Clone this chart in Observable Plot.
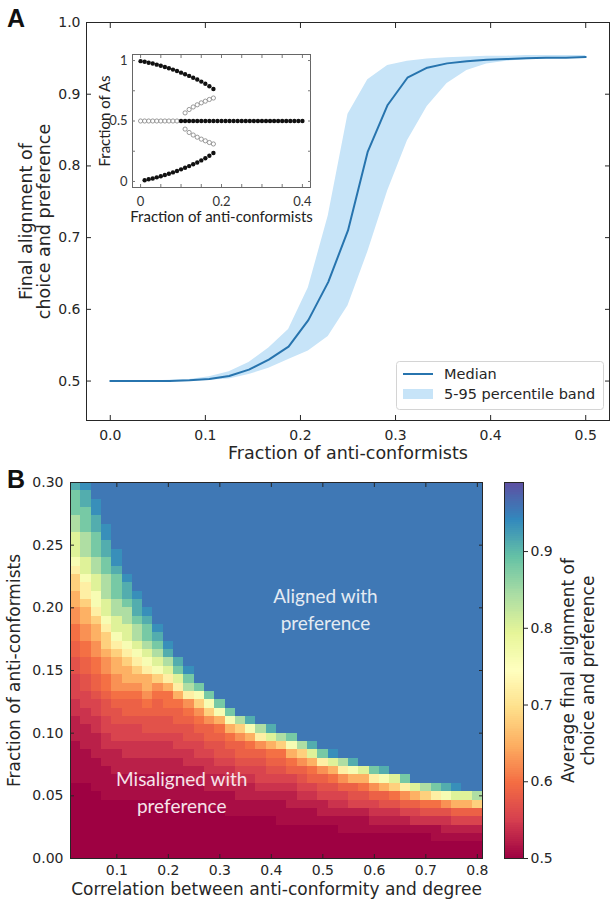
<!DOCTYPE html>
<html><head><meta charset="utf-8">
<script src="https://cdn.jsdelivr.net/npm/d3@7"></script>
<script src="https://cdn.jsdelivr.net/npm/@observablehq/plot@0.6"></script>
<style>
html,body{margin:0;padding:0;background:#fff;}
#fig{position:relative;width:611px;height:902px;overflow:hidden;font-family:"DejaVu Sans",sans-serif;}
.layer{position:absolute;left:0;top:0;}
.panel-label{position:absolute;font-family:"Liberation Sans",Arial,sans-serif;font-weight:bold;font-size:25px;line-height:1;color:#111;}
</style></head><body><div id="fig"></div>
<script>
// ================= DATA =================
// Panel A: final alignment vs fraction of anti-conformists
const fracA   = [0, 0.0208, 0.0417, 0.0625, 0.0833, 0.1042, 0.125, 0.1458, 0.1667, 0.1875, 0.2083, 0.2292, 0.25, 0.2708, 0.2917, 0.3125, 0.3333, 0.3542, 0.375, 0.3958, 0.4167, 0.4375, 0.4583, 0.4792, 0.5];
const medianA = [0.5, 0.5, 0.5, 0.5, 0.501, 0.503, 0.507, 0.516, 0.53, 0.548, 0.585, 0.638, 0.71, 0.82, 0.885, 0.923, 0.937, 0.943, 0.946, 0.948, 0.949, 0.950, 0.951, 0.951, 0.952];
const p5A     = [0.5, 0.5, 0.5, 0.5, 0.5, 0.501, 0.503, 0.509, 0.518, 0.53, 0.542, 0.562, 0.605, 0.68, 0.765, 0.835, 0.883, 0.915, 0.933, 0.942, 0.946, 0.948, 0.949, 0.95, 0.95];
const p95A    = [0.5, 0.5, 0.5, 0.501, 0.502, 0.506, 0.513, 0.526, 0.546, 0.572, 0.63, 0.73, 0.872, 0.92, 0.94, 0.946, 0.949, 0.951, 0.952, 0.953, 0.953, 0.954, 0.954, 0.954, 0.954];
const xTicksA = [0, 0.1, 0.2, 0.3, 0.4, 0.5];
const yTicksA = [0.5, 0.6, 0.7, 0.8, 0.9, 1.0];

// Inset: fraction of As (bifurcation diagram)
const insetUpperX        = [0, 0.01, 0.02, 0.03, 0.04, 0.05, 0.06, 0.07, 0.08, 0.09, 0.10, 0.11, 0.12, 0.13, 0.14, 0.15, 0.16, 0.17, 0.18];
const insetUpperStable   = [0.995, 0.99, 0.982, 0.975, 0.966, 0.957, 0.947, 0.936, 0.925, 0.913, 0.9, 0.887, 0.873, 0.858, 0.843, 0.826, 0.808, 0.788, 0.765];
const insetLowerX        = [0.01, 0.02, 0.03, 0.04, 0.05, 0.06, 0.07, 0.08, 0.09, 0.10, 0.11, 0.12, 0.13, 0.14, 0.15, 0.16, 0.17, 0.18];
const insetLowerStable   = [0.01, 0.018, 0.025, 0.034, 0.043, 0.053, 0.064, 0.075, 0.087, 0.1, 0.113, 0.127, 0.142, 0.157, 0.174, 0.192, 0.212, 0.235];
const insetOpenCenterX   = [0, 0.01, 0.02, 0.03, 0.04, 0.05, 0.06, 0.07, 0.08, 0.09];
const insetStableCenterX = [0.10, 0.11, 0.12, 0.13, 0.14, 0.15, 0.16, 0.17, 0.18, 0.19, 0.20, 0.21, 0.22, 0.23, 0.24, 0.25, 0.26, 0.27, 0.28, 0.29, 0.30, 0.31, 0.32, 0.33, 0.34, 0.35, 0.36, 0.37, 0.38, 0.39, 0.40];
const insetCenterValue   = 0.5;
const insetOpenBranchX   = [0.11, 0.12, 0.13, 0.14, 0.15, 0.16, 0.17, 0.18];
const insetUpperUnstable = [0.567, 0.595, 0.616, 0.634, 0.65, 0.664, 0.678, 0.69];
const insetLowerUnstable = [0.433, 0.405, 0.384, 0.366, 0.35, 0.336, 0.322, 0.31];
const insetXTicks = [0, 0.05, 0.1, 0.15, 0.2, 0.25, 0.3, 0.35, 0.4];
const insetXLabels = [0, 0.2, 0.4];
const insetYTicks = [0, 0.25, 0.5, 0.75, 1];
const insetYLabels = [0, 0.5, 1];

// Panel B: heatmap (columns = correlation, chars = rows of fraction, bottom -> top)
const corrX = [0.02,0.04,0.06,0.08,0.10,0.12,0.14,0.16,0.18,0.20,0.22,0.24,0.26,0.28,0.30,0.32,0.34,0.36,0.38,0.40,0.42,0.44,0.46,0.48,0.50,0.52,0.54,0.56,0.58,0.60,0.62,0.64,0.66,0.68,0.70,0.72,0.74,0.76,0.78,0.80];
const fracDomainB = [0, 0.3];
const fracRowCount = 45;
const heatLevels = {"0":0.5,"1":0.51,"2":0.525,"3":0.54,"4":0.555,"5":0.57,"6":0.585,"7":0.6,"8":0.625,"9":0.65,"a":0.68,"b":0.72,"c":0.76,"d":0.80,"e":0.84,"f":0.88,"g":0.91,"h":0.935,"i":0.955};
const alignedLevel = "i"; // rows above each column's listed cells are all at the aligned plateau
const heatCols = [
  "00000000011111222334445566778899aabcdddeefffg",
  "000000000111122233445566778899abbcddeeefffggh",
  "0000000011112223344566778899abccddeefffgghh",
  "0000000111122334455677889aabcddeeeffgghh",
  "000000011122234455678899abcddeefffghh",
  "00000001112233445667899abcddeefggh",
  "0000000111223344566789abcdeefggh",
  "0000000111223345567899bcdeffgh",
  "000000011122334556678acdefgh",
  "000000011122334556779bdegh",
  "00000001112234456679bdfg",
  "0000001112233455678befh",
  "000000111223445678acf",
  "00000011223345668acf",
  "00000011223455679cf",
  "0000011123345679cf",
  "000001122345668ae",
  "000001122345679cg",
  "00000112344568be",
  "00000112345679dg",
  "0000111234567ae",
  "0000112234679cf",
  "000011234568ae",
  "000011234679dg",
  "00001224568bf",
  "00001234579dh",
  "0001123468be",
  "0001124569cg",
  "0001124579d",
  "000123468bf",
  "000123569cg",
  "00012357ad",
  "00012468bf",
  "00013469d",
  "0001357ae",
  "0011357bf",
  "0012358cg",
  "0012469dh",
  "0012469d",
  "001246ae"
];
const xTicksB = [0.1, 0.2, 0.3, 0.4, 0.5, 0.6, 0.7, 0.8];
const yTicksB = [0, 0.05, 0.1, 0.15, 0.2, 0.25, 0.3];
const colorDomainB = [0.5, 0.99];
const colorTicksB = [0.5, 0.6, 0.7, 0.8, 0.9];
const annotB = [
  {label: "Aligned with\npreference", corr: 0.505, frac: 0.2},
  {label: "Misaligned with\npreference", corr: 0.226, frac: 0.054}
];

// ================= BUILD =================
const fig = document.getElementById("fig");
function place(node, left, top) {
  const w = document.createElement("div");
  w.className = "layer"; w.style.left = left + "px"; w.style.top = top + "px";
  w.appendChild(node); fig.appendChild(w); return w;
}
const ink = "#262626";
function tickMarks(xTicks, yTicks, size) {
  return [
    Plot.axisX({anchor: "bottom", ticks: xTicks, tickSize: -size, fill: null, label: null, stroke: ink}),
    Plot.axisX({anchor: "top", ticks: xTicks, tickSize: -size, fill: null, label: null, stroke: ink}),
    Plot.axisY({anchor: "left", ticks: yTicks, tickSize: -size, fill: null, label: null, stroke: ink}),
    Plot.axisY({anchor: "right", ticks: yTicks, tickSize: -size, fill: null, label: null, stroke: ink})
  ];
}

// ---- Panel A ----
const dataA = fracA.map((f, i) => ({frac: f, median: medianA[i], p5: p5A[i], p95: p95A[i]}));
const bandColor = "#c7e4f8";
const lineColor = "#2774ae";
const plotA = Plot.plot({
  width: 611, height: 470,
  marginLeft: 86, marginRight: 2, marginTop: 22, marginBottom: 50,
  style: {fontFamily: "DejaVu Sans", color: ink, background: "transparent", overflow: "visible"},
  x: {domain: [-0.025, 0.525], label: null},
  y: {domain: [0.445, 1.0], label: null},
  marks: [
    Plot.areaY(dataA, {x: "frac", y1: "p5", y2: "p95", fill: bandColor}),
    Plot.lineY(dataA, {x: "frac", y: "median", stroke: lineColor, strokeWidth: 2}),
    Plot.frame({stroke: ink}),
    ...tickMarks(xTicksA, yTicksA, 5),
    Plot.axisX({anchor: "bottom", ticks: xTicksA, tickSize: 0, tickPadding: 10, tickFormat: ".1f", fontSize: 14, label: null}),
    Plot.axisY({anchor: "left", ticks: yTicksA, tickSize: 0, tickPadding: 6, tickFormat: ".1f", fontSize: 14, label: null}),
    Plot.text(["Fraction of anti-conformists"], {frameAnchor: "bottom", dy: 33, fontSize: 17.5, lineAnchor: "middle", fill: ink}),
    Plot.text(["Final alignment of\nchoice and preference"], {frameAnchor: "left", dx: -51, rotate: -90, textAnchor: "middle", fontSize: 17.5, lineHeight: 1.0, lineAnchor: "middle", fill: ink})
  ]
});
place(plotA, 0, 0);

// ---- Inset ----
const zip = (xs, ys) => xs.map((x, i) => ({x, y: ys[i]}));
const blackPts = [
  ...zip(insetUpperX, insetUpperStable),
  ...zip(insetLowerX, insetLowerStable),
  ...insetStableCenterX.map(x => ({x, y: insetCenterValue}))
];
const openPts = [
  ...insetOpenCenterX.map(x => ({x, y: insetCenterValue})),
  ...zip(insetOpenBranchX, insetUpperUnstable),
  ...zip(insetOpenBranchX, insetLowerUnstable)
];
const plotInset = Plot.plot({
  width: 330, height: 232,
  marginLeft: 132, marginRight: 20, marginTop: 54, marginBottom: 45,
  style: {fontFamily: "Lato", color: "#333", background: "transparent", overflow: "visible"},
  x: {domain: [-0.02, 0.42], label: null},
  y: {domain: [-0.05, 1.05], label: null},
  marks: [
    Plot.frame({stroke: "#666"}),
    Plot.axisX({anchor: "bottom", ticks: insetXTicks, tickSize: -3, fill: null, label: null, stroke: "#777"}),
    Plot.axisX({anchor: "top", ticks: insetXTicks, tickSize: -3, fill: null, label: null, stroke: "#777"}),
    Plot.axisY({anchor: "left", ticks: insetYTicks, tickSize: -3, fill: null, label: null, stroke: "#777"}),
    Plot.axisY({anchor: "right", ticks: insetYTicks, tickSize: -3, fill: null, label: null, stroke: "#777"}),
    Plot.dot(openPts, {x: "x", y: "y", r: 2.1, stroke: "#808080", strokeWidth: 0.8, fill: "white"}),
    Plot.dot(blackPts, {x: "x", y: "y", r: 2.2, fill: "#111"}),
    Plot.axisX({anchor: "bottom", ticks: insetXLabels, tickSize: 0, tickPadding: 9, tickFormat: d => String(d), fontSize: 13, label: null}),
    Plot.axisY({anchor: "left", ticks: insetYLabels, tickSize: 0, tickPadding: 5, tickFormat: d => String(d), fontSize: 13, label: null}),
    Plot.text(["Fraction of anti-conformists"], {frameAnchor: "bottom", dy: 30, fontSize: 15, lineAnchor: "middle", fill: "#222"}),
    Plot.text(["Fraction of As"], {frameAnchor: "left", dx: -27, rotate: -90, textAnchor: "middle", fontSize: 15, lineAnchor: "middle", fill: "#222"})
  ]
});
place(plotInset, 0, 0);

// ---- Legend (panel A) ----
const NS = "http://www.w3.org/2000/svg";
const leg = document.createElementNS(NS, "svg");
leg.setAttribute("width", 210); leg.setAttribute("height", 52);
leg.innerHTML = `
  <rect x="0.5" y="0.5" width="207" height="48" rx="3" fill="rgba(255,255,255,0.85)" stroke="#d4d4d4"/>
  <line x1="7" x2="37" y1="13" y2="13" stroke="${lineColor}" stroke-width="2"/>
  <rect x="7" y="28" width="30" height="10" fill="${bandColor}"/>
  <text x="48" y="13" dy="0.35em" font-family="DejaVu Sans" font-size="14.5" fill="${ink}">Median</text>
  <text x="48" y="33" dy="0.35em" font-family="DejaVu Sans" font-size="14.5" fill="${ink}">5-95 percentile band</text>`;
place(leg, 396, 361);

// ---- Panel B heatmap ----
const colStep = corrX[1] - corrX[0];
const rowStep = (fracDomainB[1] - fracDomainB[0]) / fracRowCount;
const cellsB = [];
heatCols.forEach((col, j) => {
  const full = col.padEnd(fracRowCount, alignedLevel);
  for (let i = 0; i < fracRowCount; i++) {
    cellsB.push({
      x1: corrX[j] - colStep / 2, x2: corrX[j] + colStep / 2,
      y1: fracDomainB[0] + i * rowStep, y2: fracDomainB[0] + (i + 1) * rowStep,
      v: heatLevels[full[i]]
    });
  }
});
const spectralStops = ["#9e0142","#d53e4f","#f46d43","#fdae61","#fee08b","#ffffbf","#e6f598","#abdda4","#66c2a5","#3288bd","#5e4fa2"];
const colorB = {type: "linear", domain: colorDomainB, interpolate: d3.piecewise(d3.interpolateRgb, spectralStops), clamp: true};
const plotB = Plot.plot({
  width: 490, height: 432,
  marginLeft: 70, marginRight: 8, marginTop: 12, marginBottom: 44,
  style: {fontFamily: "DejaVu Sans", color: ink, background: "transparent", overflow: "visible"},
  x: {domain: [corrX[0] - colStep / 2, corrX[corrX.length - 1] + colStep / 2], label: null},
  y: {domain: fracDomainB, label: null},
  color: colorB,
  marks: [
    Plot.rect(cellsB, {x1: "x1", x2: "x2", y1: "y1", y2: "y2", fill: "v", shapeRendering: "crispEdges"}),
    Plot.frame({stroke: ink}),
    ...tickMarks(xTicksB, yTicksB, 4),
    Plot.axisX({anchor: "bottom", ticks: xTicksB, tickSize: 0, tickPadding: 7, tickFormat: ".1f", fontSize: 14, label: null}),
    Plot.axisY({anchor: "left", ticks: yTicksB, tickSize: 0, tickPadding: 7, tickFormat: ".2f", fontSize: 14, label: null}),
    Plot.text([annotB[0]], {x: "corr", y: "frac", text: "label", fontFamily: "Lato", fontSize: 19, lineHeight: 1.4, fill: "#e4ebf3"}),
    Plot.text([annotB[1]], {x: "corr", y: "frac", text: "label", fontFamily: "Lato", fontSize: 19, lineHeight: 1.4, fill: "#f7e3ea"}),
    Plot.text(["Correlation between anti-conformity and degree"], {frameAnchor: "bottom", dy: 31, fontSize: 17, lineAnchor: "middle", fill: ink}),
    Plot.text(["Fraction of anti-conformists"], {frameAnchor: "left", dx: -56, rotate: -90, textAnchor: "middle", fontSize: 17, lineAnchor: "middle", fill: ink})
  ]
});
place(plotB, 0, 470);

// ---- Colorbar ----
const rampStep = 0.0025;
const ramp = d3.range(colorDomainB[0], colorDomainB[1], rampStep);
const plotCb = Plot.plot({
  width: 121, height: 432,
  marginLeft: 14, marginRight: 88, marginTop: 12, marginBottom: 44,
  style: {fontFamily: "DejaVu Sans", color: ink, background: "transparent", overflow: "visible"},
  x: {domain: [0, 1], axis: null},
  y: {domain: colorDomainB, label: null},
  color: colorB,
  marks: [
    Plot.rect(ramp, {x1: 0, x2: 1, y1: d => d, y2: d => Math.min(d + rampStep * 1.5, colorDomainB[1]), fill: d => d + rampStep / 2, shapeRendering: "crispEdges"}),
    Plot.frame({stroke: ink}),
    Plot.axisY({anchor: "right", ticks: colorTicksB, tickSize: 4, tickPadding: 3, tickFormat: ".1f", fontSize: 14, label: null, stroke: ink}),
    Plot.text(["Average final alignment of\nchoice and preference"], {frameAnchor: "right", dx: 54, rotate: -90, textAnchor: "middle", fontSize: 17, lineHeight: 1.15, lineAnchor: "middle", fill: ink})
  ]
});
place(plotCb, 490, 470);

// ---- panel labels ----
for (const [t, l, tp] of [["A", 7, 6], ["B", 7, 467]]) {
  const d = document.createElement("div");
  d.className = "panel-label"; d.textContent = t;
  d.style.left = l + "px"; d.style.top = tp + "px";
  fig.appendChild(d);
}
</script></body></html>
